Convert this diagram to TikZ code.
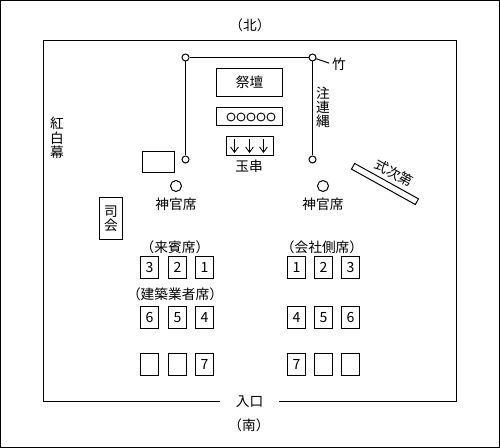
\documentclass[tikz,border=0pt]{standalone}
\usepackage{fontspec}
\setmainfont{Noto Sans CJK JP}
\usetikzlibrary{arrows.meta}
\tikzset{
  plan/.style={x=0.02cm, y=-0.02cm, line width=0.567pt},
  label/.style={font=\fontsize{7.8}{8.1}\selectfont, inner sep=0pt, align=center},
  seat/.style={draw, line width=0.567pt, minimum width=0.36cm, minimum height=0.44cm, inner sep=0pt,
    font=\fontsize{8}{9}\selectfont},
  pole/.style={draw, circle, fill=white, line width=0.567pt, minimum size=0.14cm, inner sep=0pt},
  priest/.style={draw, circle, line width=0.567pt, minimum size=0.22cm, inner sep=0pt},
  box/.style={draw, line width=0.567pt, inner sep=0pt},
  ball/.style={draw, circle, line width=0.5pt, minimum size=0.16cm, inner sep=0pt},
  downarrow/.style={-{Straight Barb[length=3pt, width=4.4pt]}, line width=0.5pt}
}
\begin{document}
\begin{tikzpicture}[plan]
      \useasboundingbox (0,0) rectangle (500,448);
      \draw (0.5,0.5) rectangle (499.5,447.5);
      % outer fence with the gap at the entrance
      \node[label, minimum width=1.18cm, minimum height=0.3cm] (iriguchi) at (249.5,401.5) {入口};
      \draw (iriguchi.west) -| (43.5,40.5) -| (456.5,401.5) -- (iriguchi.east);
      \node[label] (kita) at (250,25) {（北）};
      \node[label] (minami) at (249,425) {（南）};
      \node[label] (kohaku) at (57,138) {紅\\白\\幕};
      % altar
      \node[box, minimum width=1.32cm, minimum height=0.56cm, font=\fontsize{7.8}{9}\selectfont] (saidan) at (249.5,82.5) {祭壇};
      \node[box, minimum width=1.32cm, minimum height=0.36cm] (sonae) at (249.5,116.5) {};
      \node[ball] (ball1) at (231,117) {};
      \node[ball] (ball2) at (241,117) {};
      \node[ball] (ball3) at (251,117) {};
      \node[ball] (ball4) at (261,117) {};
      \node[ball] (ball5) at (271,117) {};
      \node[box, minimum width=0.94cm, minimum height=0.38cm] (tamagushibox) at (250,146) {};
      \coordinate (arrowa) at (234.5,139);
      \coordinate (arrowb) at (249.5,139);
      \coordinate (arrowc) at (263.5,139);
      \coordinate (tipa) at (234.5,153);
      \coordinate (tipb) at (249.5,153);
      \coordinate (tipc) at (263.5,153);
      \draw[downarrow] (arrowa) -- (tipa);
      \draw[downarrow] (arrowb) -- (tipb);
      \draw[downarrow] (arrowc) -- (tipc);
      \node[label] (tamagushi) at (249,166) {玉串};
      % bamboo and rope
      \node[pole] (takeNW) at (185.5,57.5) {};
      \node[pole] (takeNE) at (312.5,57.5) {};
      \node[pole] (takeSW) at (185.5,159.5) {};
      \node[pole] (takeSE) at (312.5,159.5) {};
      \draw (takeNW) -- (takeNE);
      \draw (takeNW) -- (takeSW);
      \draw (takeNE) -- (takeSE);
      \node[label] (take) at (339,64) {竹};
      \draw[shorten >=1.5pt] (takeNE) -- (take.west);
      \node[label] (shimenawa) at (323,107.5) {注\\連\\縄};
      % priests
      \node[box, minimum width=0.64cm, minimum height=0.42cm] (table) at (158.5,162) {};
      \node[priest] (priestL) at (176,186) {};
      \node[priest] (priestR) at (323,186) {};
      \node[label] (shinkanL) at (176,204) {神官席};
      \node[label] (shinkanR) at (323,204) {神官席};
      \node[box, rotate=-29, minimum width=1.46cm, minimum height=0.13cm] (bench) at (385,184) {};
      \node[label, rotate=-29] (shikishidai) at (394,173) {式次第};
      \node[box, label, draw, minimum width=0.46cm, minimum height=0.84cm] (shikai) at (111,218.5) {司\\会};
      % guests
      \node[label] (raihin) at (175,247) {（来賓席）};
      \node[label] (kensetsu) at (175,294) {（建築業者席）};
      \node[label] (kaisha) at (322,247) {（会社側席）};
      \node[seat] (seatA1) at (149.5,267.5) {3};
      \node[seat] (seatA2) at (177.5,267.5) {2};
      \node[seat] (seatA3) at (204.5,267.5) {1};
      \node[seat] (seatA4) at (149.5,317.5) {6};
      \node[seat] (seatA5) at (177.5,317.5) {5};
      \node[seat] (seatA6) at (204.5,317.5) {4};
      \node[seat] (seatA7) at (149.5,364.5) {};
      \node[seat] (seatA8) at (177.5,364.5) {};
      \node[seat] (seatA9) at (204.5,364.5) {7};
      \node[seat] (seatB1) at (296.5,267.5) {1};
      \node[seat] (seatB2) at (323.5,267.5) {2};
      \node[seat] (seatB3) at (350.5,267.5) {3};
      \node[seat] (seatB4) at (296.5,317.5) {4};
      \node[seat] (seatB5) at (323.5,317.5) {5};
      \node[seat] (seatB6) at (350.5,317.5) {6};
      \node[seat] (seatB7) at (296.5,364.5) {7};
      \node[seat] (seatB8) at (323.5,364.5) {};
      \node[seat] (seatB9) at (350.5,364.5) {};
\end{tikzpicture}
\end{document}
